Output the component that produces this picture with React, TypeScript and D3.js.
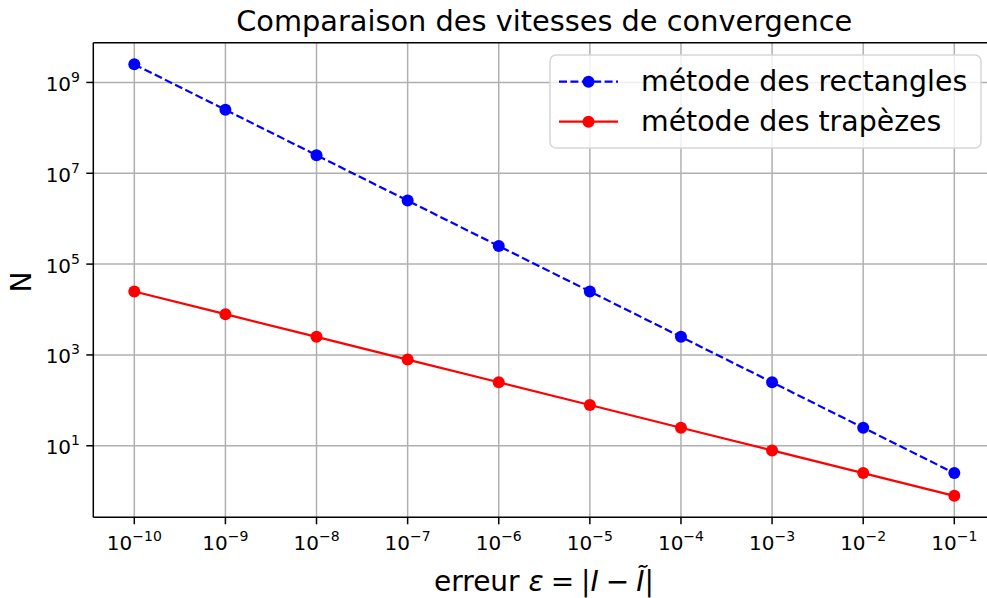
import React from "react";
import * as d3 from "d3";

// Error thresholds and required number of subdivisions for each method
const errors = [1e-10, 1e-9, 1e-8, 1e-7, 1e-6, 1e-5, 1e-4, 1e-3, 1e-2, 1e-1];
const rectangles = [2.5e9, 2.5e8, 2.5e7, 2.5e6, 2.5e5, 2.5e4, 2500, 250, 25, 2.5];
const trapezes = [25000, 7906, 2500, 790.6, 250, 79.06, 25, 7.906, 2.5, 0.7906];

const xTickExponents = [-10, -9, -8, -7, -6, -5, -4, -3, -2, -1];
const yTickExponents = [1, 3, 5, 7, 9];

const seriesNames = ["métode des rectangles", "métode des trapèzes"];

const W = 987;
const H = 598;
const left = 93.3;
const right = 995.3;
const top = 42.7;
const bottom = 517.3;

const FONT = "DejaVu Sans, Verdana, sans-serif";

const x = d3.scaleLog().domain([Math.pow(10, -10.45), Math.pow(10, -0.55)]).range([left, right]);
const y = d3.scaleLog().domain([Math.pow(10, -0.575), Math.pow(10, 9.875)]).range([bottom, top]);

const line = d3
  .line<[number, number]>()
  .x((d) => x(d[0]))
  .y((d) => y(d[1]));

const fmtExp = (e: number) => (e < 0 ? "\u2212" + Math.abs(e) : String(e));

const SP = "\u2005";

function Series({ values, color, dashed }: { values: number[]; color: string; dashed: boolean }) {
  const pts = errors.map((e, i) => [e, values[i]] as [number, number]);
  return (
    <g>
      <path
        d={line(pts) || ""}
        fill="none"
        stroke={color}
        strokeWidth={2.2}
        strokeDasharray={dashed ? "8,3.4" : undefined}
      />
      {pts.map((p, i) => (
        <circle key={i} cx={x(p[0])} cy={y(p[1])} r={6} fill={color} />
      ))}
    </g>
  );
}

export default function App() {
  const clipId = "plot-area";
  return (
    <svg
      width={W}
      height={H}
      style={{ position: "absolute", left: 0, top: 0, display: "block", background: "#fff" }}
      fontFamily={FONT}
    >
      <defs>
        <clipPath id={clipId}>
          <rect x={left} y={top} width={right - left} height={bottom - top} />
        </clipPath>
      </defs>

      {/* grid */}
      <g stroke="#b0b0b0" strokeWidth={1.5}>
        {xTickExponents.map((e) => (
          <line key={"gx" + e} x1={x(Math.pow(10, e))} x2={x(Math.pow(10, e))} y1={top} y2={bottom} />
        ))}
        {yTickExponents.map((e) => (
          <line key={"gy" + e} x1={left} x2={right} y1={y(Math.pow(10, e))} y2={y(Math.pow(10, e))} />
        ))}
      </g>

      {/* data */}
      <g clipPath={`url(#${clipId})`}>
        <Series values={rectangles} color="#0000ff" dashed={true} />
        <Series values={trapezes} color="#ff0000" dashed={false} />
      </g>

      {/* spines */}
      <g stroke="#000" strokeWidth={1.5} fill="none">
        <line x1={left} x2={left} y1={top} y2={bottom} />
        <line x1={left} x2={right} y1={bottom} y2={bottom} />
        <line x1={left} x2={right} y1={top} y2={top} />
        <line x1={right} x2={right} y1={top} y2={bottom} />
      </g>

      {/* x ticks */}
      {xTickExponents.map((e) => {
        const px = x(Math.pow(10, e));
        return (
          <g key={"tx" + e}>
            <line x1={px} x2={px} y1={bottom} y2={bottom + 7} stroke="#000" strokeWidth={1.5} />
            <text x={px} y={550} textAnchor="middle" fontSize={20} fill="#000">
              10
              <tspan dy={-9} fontSize={14}>
                {fmtExp(e)}
              </tspan>
            </text>
          </g>
        );
      })}

      {/* y ticks */}
      {yTickExponents.map((e) => {
        const py = y(Math.pow(10, e));
        return (
          <g key={"ty" + e}>
            <line x1={left - 7} x2={left} y1={py} y2={py} stroke="#000" strokeWidth={1.5} />
            <text x={80} y={py + 8.4} textAnchor="end" fontSize={20} fill="#000">
              10
              <tspan dy={-9} fontSize={14}>
                {fmtExp(e)}
              </tspan>
            </text>
          </g>
        );
      })}

      {/* title */}
      <text x={(left + right) / 2} y={31} textAnchor="middle" fontSize={28.8} fill="#000">
        Comparaison des vitesses de convergence
      </text>

      {/* axis labels */}
      <text x={544} y={591} textAnchor="middle" fontSize={28} fill="#000">
        erreur <tspan fontStyle="italic">ε</tspan>
        {SP + "=" + SP + "|"}
        <tspan fontStyle="italic">I</tspan>
        {SP + "\u2212" + SP}
        <tspan fontStyle="italic">Ĩ</tspan>|
      </text>
      <text
        transform={`translate(31, ${(top + bottom) / 2 + 2}) rotate(-90)`}
        textAnchor="middle"
        fontSize={28}
        fill="#000"
      >
        N
      </text>

      {/* legend */}
      <g>
        <rect x={550} y={55} width={431} height={93} rx={6} ry={6} fill="#fff" fillOpacity={0.8} stroke="#d6d6d6" strokeWidth={1.5} />
        {seriesNames.map((name, i) => {
          const cy = 81.7 + i * 40;
          const color = i === 0 ? "#0000ff" : "#ff0000";
          return (
            <g key={name}>
              <line
                x1={559}
                x2={618}
                y1={cy}
                y2={cy}
                stroke={color}
                strokeWidth={2.2}
                strokeDasharray={i === 0 ? "8,3.4" : undefined}
              />
              <circle cx={588.5} cy={cy} r={6} fill={color} />
              <text x={641} y={cy + 9} fontSize={28.4} fill="#000">
                {name}
              </text>
            </g>
          );
        })}
      </g>
    </svg>
  );
}
